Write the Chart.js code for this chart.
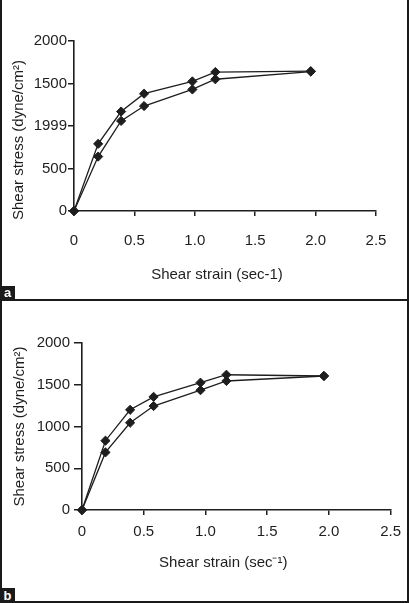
<!DOCTYPE html>
<html>
<head>
<meta charset="utf-8">
<script src="https://cdn.jsdelivr.net/npm/chart.js@4/dist/chart.umd.min.js"></script>
<style>
  body { margin: 0; background: #fff; }
  .panel { position: absolute; left: 0; width: 409px; }
  .panel canvas { position: absolute; left: 0; top: 0; }
  .frame { position: absolute; background: #1a1a1a; }
  .tag { position: absolute; left: 0; background: #1a1a1a; color: #fff; font: bold 13px "Liberation Sans", Arial, sans-serif; text-align: center; }
</style>
</head>
<body>
<div class="panel" style="top:0;height:300px"><canvas id="chartA" width="409" height="300"></canvas></div>
<div class="panel" style="top:300px;height:303px"><canvas id="chartB" width="409" height="303"></canvas></div>

<div class="frame" style="left:0;top:0;width:2px;height:603px"></div>
<div class="frame" style="left:407px;top:0;width:2px;height:603px"></div>
<div class="frame" style="left:0;top:299px;width:409px;height:2px"></div>
<div class="frame" style="left:0;top:601px;width:409px;height:2px"></div>
<div class="tag" style="top:286px;width:15px;height:14px;line-height:14px">a</div>
<div class="tag" style="top:588px;width:15px;height:15px;line-height:15px">b</div>

<script>
// panel a
const strainA = [0, 0.2, 0.39, 0.58, 0.98, 1.17, 1.96];
const upperA  = [0, 790, 1170, 1380, 1525, 1635, 1645];
const lowerA  = [0, 640, 1060, 1235, 1430, 1550, 1640];

// panel b
const strainB = [0, 0.19, 0.39, 0.58, 0.96, 1.17, 1.96];
const upperB  = [0, 830, 1200, 1355, 1525, 1620, 1605];
const lowerB  = [0, 690, 1045, 1245, 1435, 1545, 1605];

const xTicks = [0, 0.5, 1, 1.5, 2, 2.5];
const yTicks = [0, 500, 1000, 1500, 2000];
const yTickLabelsA = ['0', '500', '1999', '1500', '2000'];
const yTickLabelsB = ['0', '500', '1000', '1500', '2000'];

const ink = '#1e1e1e';
const fnt = { family: '"Liberation Sans", Arial, sans-serif', size: 15 };

function pts(xs, ys) {
  return xs.map((x, i) => ({ x, y: ys[i] }));
}

function series(xs, ys) {
  return {
    data: pts(xs, ys),
    borderColor: ink, borderWidth: 1.3,
    pointStyle: 'rectRot', pointRadius: 4.6,
    pointBackgroundColor: ink, pointBorderColor: ink, pointBorderWidth: 1,
    tension: 0, clip: false
  };
}

// axis captions, placed a bit off the plot centre like the original
const captions = {
  id: 'captions',
  afterDraw(chart, args, o) {
    const { ctx, chartArea: ca } = chart;
    ctx.save();
    ctx.fillStyle = ink;
    ctx.font = fnt.size + 'px ' + fnt.family;
    ctx.textAlign = 'center';
    ctx.textBaseline = 'middle';
    ctx.fillText(o.xText, (ca.left + ca.right) / 2 + o.xdx, ca.bottom + o.xdy);
    ctx.translate(o.yx, (ca.top + ca.bottom) / 2 + o.ydy);
    ctx.rotate(-Math.PI / 2);
    ctx.fillText(o.yText, 0, 0);
    ctx.restore();
  }
};

function makeChart(id, o) {
  new Chart(document.getElementById(id), {
    type: 'line',
    data: { datasets: [series(o.xs, o.upper), series(o.xs, o.lower)] },
    plugins: [captions],
    options: {
      responsive: false, animation: false,
      layout: { padding: { top: o.top, right: o.right, left: 0, bottom: 0 } },
      plugins: {
        legend: { display: false }, tooltip: { enabled: false },
        captions: { xText: o.xTitle, yText: 'Shear stress (dyne/cm²)', xdx: o.xdx, xdy: o.xdy, yx: o.yx, ydy: o.ydy }
      },
      scales: {
        x: {
          type: 'linear', min: 0, max: 2.5,
          afterBuildTicks: s => { s.ticks = xTicks.map(v => ({ value: v })); },
          afterFit: s => { s.height = o.xh; },
          ticks: { color: ink, font: fnt, padding: o.xpad, maxRotation: 0 },
          grid: { drawOnChartArea: false, color: ink, tickLength: 5, lineWidth: 1.5 },
          border: { color: ink, width: 1.6 }
        },
        y: {
          min: 0, max: 2000,
          afterBuildTicks: s => { s.ticks = yTicks.map(v => ({ value: v })); },
          afterFit: s => { s.width = o.yw; },
          ticks: { color: ink, font: fnt, padding: o.ypad, callback: (v) => o.yLabels[yTicks.indexOf(v)] },
          grid: { drawOnChartArea: false, color: ink, tickLength: o.ytl, lineWidth: 1.5 },
          border: { color: ink, width: 1.6 }
        }
      }
    }
  });
}

makeChart('chartA', {
  xs: strainA, upper: upperA, lower: lowerA, yLabels: yTickLabelsA,
  xTitle: 'Shear strain (sec-1)',
  top: 41, right: 33, yw: 74, xh: 89, xpad: 16, ypad: 1, ytl: 6,
  xdx: -8, xdy: 64, yx: 19, ydy: 14
});

makeChart('chartB', {
  xs: strainB, upper: upperB, lower: lowerB, yLabels: yTickLabelsB,
  xTitle: 'Shear strain (sec⁻¹)',
  top: 43, right: 15, yw: 82, xh: 93, xpad: 8, ypad: 4, ytl: 8,
  xdx: -13, xdy: 53, yx: 20, ydy: 0
});
</script>
</body>
</html>
